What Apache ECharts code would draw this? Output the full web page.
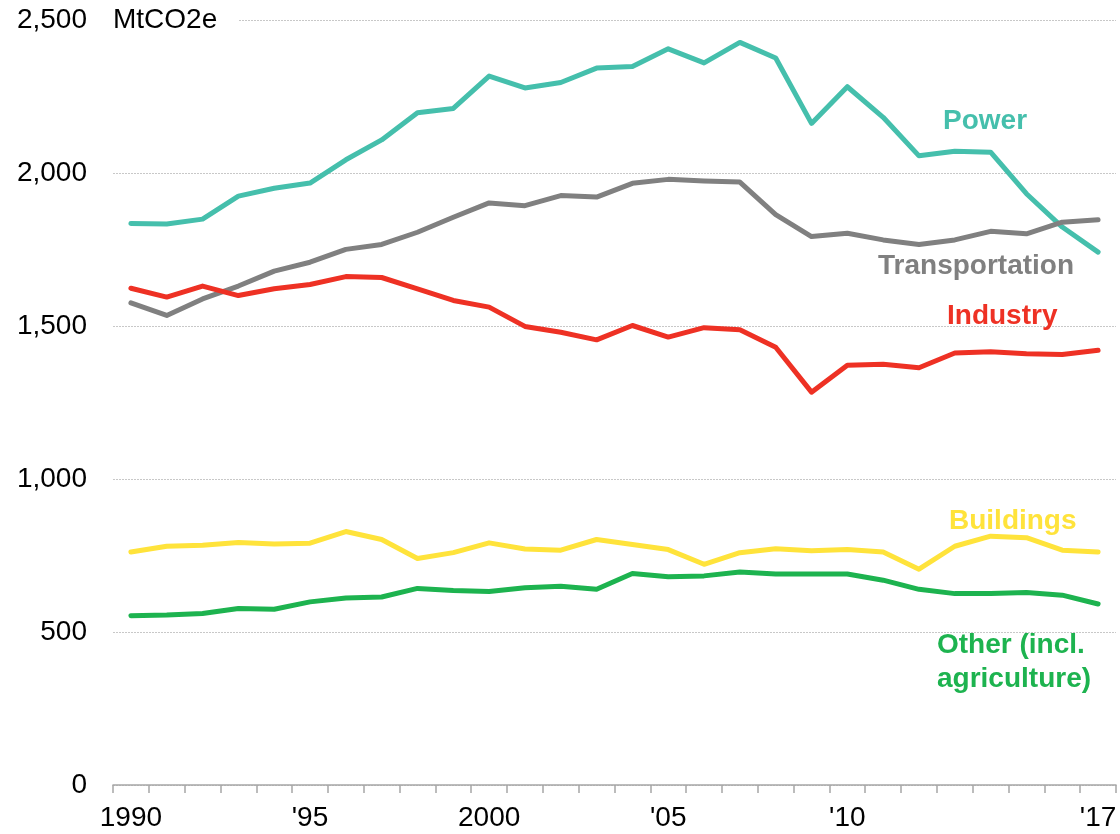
<!DOCTYPE html>
<html>
<head>
<meta charset="utf-8">
<script src="https://cdn.jsdelivr.net/npm/echarts@6/dist/echarts.min.js"></script>
<style>
html,body{margin:0;padding:0;background:#fff;}
#chart{width:1120px;height:834px;}
</style>
</head>
<body>
<div id="chart"></div>
<script>
var years = ['1990','1991','1992','1993','1994','1995','1996','1997','1998','1999','2000','2001','2002','2003','2004','2005','2006','2007','2008','2009','2010','2011','2012','2013','2014','2015','2016','2017'];
var tickLabels = ['1990','','','','',"'95",'','','','','2000','','','','',"'05",'','','','',"'10",'','','','','','',"'17"];
var yTicks = [0, 500, 1000, 1500, 2000, 2500];

var power = [1837,1835,1851,1926,1952,1969,2045,2110,2199,2213,2319,2280,2298,2345,2350,2408,2362,2429,2378,2164,2284,2184,2058,2073,2070,1934,1825,1743];
var transportation = [1577,1536,1590,1632,1681,1710,1752,1768,1808,1857,1904,1895,1928,1923,1968,1981,1976,1972,1866,1794,1805,1783,1768,1783,1811,1803,1841,1849];
var industry = [1625,1596,1632,1601,1623,1637,1663,1660,1623,1585,1563,1500,1481,1456,1503,1465,1496,1489,1432,1285,1373,1376,1365,1413,1417,1411,1408,1422];
var buildings = [762,781,784,793,788,791,829,803,741,760,792,772,768,803,787,770,722,760,773,766,770,762,706,781,814,809,768,762];
var other = [554,556,561,577,575,599,612,615,643,636,633,645,650,640,692,681,684,697,690,690,690,670,640,626,626,630,621,592];

var seriesNames = ['Power','Transportation','Industry','Buildings','Other (incl.\nagriculture)'];
var colors = ['#45BFAC','#808080','#EE3124','#FFE33B','#1DB34F'];

var FONT = 'Liberation Sans, Arial, sans-serif';
var chart = echarts.init(document.getElementById('chart'), null, {renderer:'canvas'});

function mk(name, data, color){
  return {
    name: name, type: 'line', data: data, showSymbol: false, symbol: 'none',
    smooth: false, animation: false,
    lineStyle: {color: color, width: 5, join: 'round', cap: 'round'},
    itemStyle: {color: color},
    z: 3
  };
}

var option = {
  animation: false,
  backgroundColor: '#ffffff',
  grid: {left: 113, right: 4, top: 20.7, bottom: 49, containLabel: false},
  xAxis: {
    type: 'category', data: years, boundaryGap: true,
    axisLine: {show: true, lineStyle: {color: '#A6A6A6', width: 1.5}},
    axisTick: {show: true, interval: 0, length: 8, lineStyle: {color: '#A6A6A6', width: 1.5}},
    axisLabel: {interval: 0, margin: 19, color: '#000', fontSize: 28, fontFamily: FONT,
      formatter: function(v, i){ return tickLabels[i]; }},
    splitLine: {show: false}
  },
  yAxis: {
    type: 'value', min: 0, max: 2500, interval: 500,
    axisLine: {show: false}, axisTick: {show: false},
    axisLabel: {margin: 26, color: '#000', fontSize: 28, fontFamily: FONT,
      formatter: function(v){ return v.toLocaleString('en-US'); }},
    splitLine: {show: true, lineStyle: {color: '#C8C8C8', width: 1, type: [2, 1]}}
  },
  series: [
    mk(seriesNames[0], power, colors[0]),
    mk(seriesNames[1], transportation, colors[1]),
    mk(seriesNames[2], industry, colors[2]),
    mk(seriesNames[3], buildings, colors[3]),
    mk(seriesNames[4], other, colors[4])
  ],
  graphic: [
    {type:'text', left: 113, top: 4, z: 10, style:{text:'MtCO2e', fill:'#000', font:'28px ' + FONT, backgroundColor:'#fff', padding:[2,21,2,0]}},
    {type:'text', x: 943, y: 121, z: 10, style:{text: seriesNames[0], fill: colors[0], font:'bold 28px ' + FONT, verticalAlign:'middle'}},
    {type:'text', x: 878, y: 266, z: 10, style:{text: seriesNames[1], fill: colors[1], font:'bold 28px ' + FONT, verticalAlign:'middle'}},
    {type:'text', x: 947, y: 316, z: 10, style:{text: seriesNames[2], fill: colors[2], font:'bold 28px ' + FONT, verticalAlign:'middle'}},
    {type:'text', x: 949, y: 521, z: 10, style:{text: seriesNames[3], fill: colors[3], font:'bold 28px ' + FONT, verticalAlign:'middle'}},
    {type:'text', x: 937, y: 628, z: 10, style:{text: seriesNames[4], fill: colors[4], font:'bold 28px ' + FONT, lineHeight: 34, verticalAlign:'top'}}
  ]
};
chart.setOption(option);
</script>
</body>
</html>
